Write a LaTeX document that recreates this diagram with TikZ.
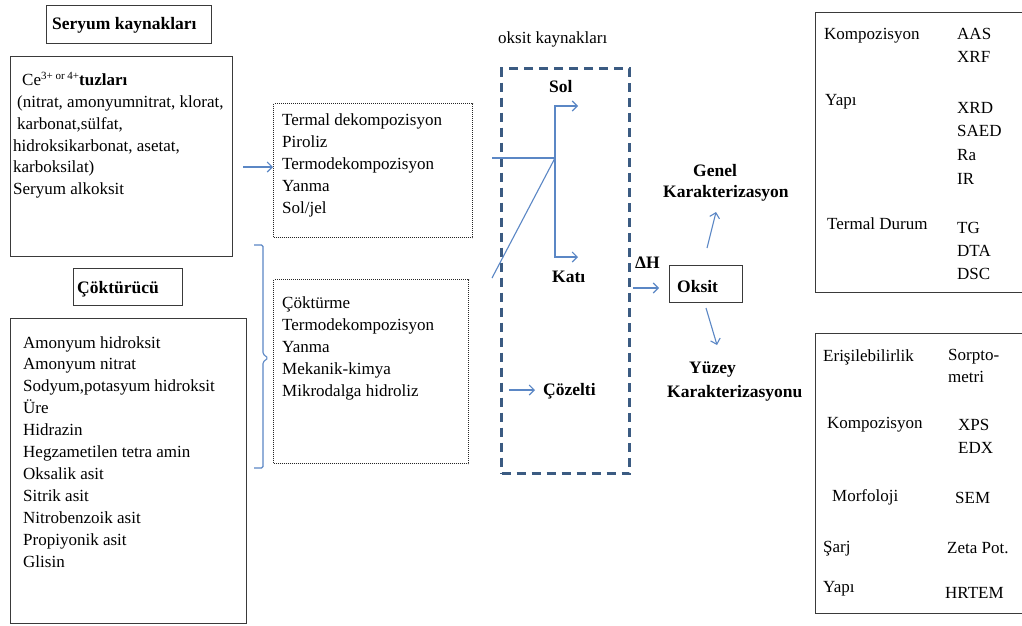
\documentclass[tikz,border=0pt]{standalone}
\usepackage{fontspec}
\setmainfont{Liberation Serif}
\usetikzlibrary{arrows.meta}
\definecolor{arrblue}{HTML}{5B87C5}
\definecolor{dashblue}{HTML}{3B5B82}
\definecolor{boxgray}{HTML}{3A3A3A}
\begin{document}
\begin{tikzpicture}[x=1pt,y=-1pt,
  txt/.style={anchor=base west,inner sep=0pt,font=\fontsize{17}{22}\selectfont},
  btxt/.style={anchor=base west,inner sep=0pt,font=\fontsize{17.5}{22}\selectfont\bfseries},
  solidbox/.style={draw=boxgray,line width=1.4pt,anchor=north west,inner sep=0pt},
  dotbox/.style={draw=black!85,line width=1pt,dash pattern=on 1pt off 1pt,anchor=north west,inner sep=0pt},
  arr/.style={draw=arrblue,line width=1.1pt,-{Straight Barb[length=5pt,width=10pt]}},
  ln/.style={draw=arrblue,line width=1.1pt},
]
\clip (0,0) rectangle (1022,625);
\fill[white] (0,0) rectangle (1022,625);

% ---------- left column ----------
\node[solidbox,minimum width=165pt,minimum height=38pt] (skbox) at (46,5) {};
\node[btxt] (sk) at (52,29) {Seryum kaynakları};

\node[solidbox,minimum width=222pt,minimum height=200pt] (cebox) at (10,56) {};
\node[txt] (ce1) at (22,85) {Ce{\fontsize{11}{11}\selectfont\raisebox{6pt}{3+ or 4+}}\textbf{tuzları}};
\node[txt] (ce2) at (17,107) {(nitrat, amonyumnitrat, klorat,};
\node[txt] (ce3) at (17,129) {karbonat,sülfat,};
\node[txt] (ce4) at (13,151) {hidroksikarbonat, asetat,};
\node[txt] (ce5) at (13,172) {karboksilat)};
\node[txt] (ce6) at (13,194) {Seryum alkoksit};

\node[solidbox,minimum width=109pt,minimum height=37pt] (ckbox) at (73,268) {};
\node[btxt] (ck) at (77,293) {Çöktürücü};

\node[solidbox,minimum width=236pt,minimum height=305pt] (pbox) at (10,318) {};
\foreach \t [count=\i from 0] in {Amonyum hidroksit, Amonyum nitrat, {Sodyum,potasyum hidroksit}, Üre, Hidrazin, Hegzametilen tetra amin, Oksalik asit, Sitrik asit, Nitrobenzoik asit, Propiyonik asit, Glisin}
  \node[txt] (p\i) at (23,{348+21.9*\i}) {\t};

% brace
\draw[ln,rounded corners=1.5pt] (254,245) -- (263,245) -- (263,354) -- (268,358) -- (263,362) -- (263,468) -- (254,468);

% ---------- method boxes ----------
\node[dotbox,minimum width=199pt,minimum height=134pt] (tbox) at (273,103) {};
\foreach \t [count=\i from 0] in {Termal dekompozisyon, Piroliz, Termodekompozisyon, Yanma, Sol/jel}
  \node[txt] (t\i) at (282,{125+22*\i}) {\t};

\node[dotbox,minimum width=195pt,minimum height=184pt] (mbox) at (273,279) {};
\foreach \t [count=\i from 0] in {Çöktürme, Termodekompozisyon, Yanma, Mekanik-kimya, Mikrodalga hidroliz}
  \node[txt] (m\i) at (282,{308+22*\i}) {\t};

\coordinate (a1) at (243,167);
\draw[arr] (a1) -- (a1 -| tbox.west);

% ---------- oxide sources ----------
\node[txt] (ok) at (498,43) {oksit kaynakları};
\node[draw=dashblue,line width=3pt,dash pattern=on 9pt off 6pt,anchor=north west,inner sep=0pt,minimum width=128pt,minimum height=405pt] (dbox) at (500,67) {};

\coordinate (H) at (492,158);
\coordinate (J) at (555,158);
\coordinate (D) at (492,278);
\coordinate (S) at (555,106);
\coordinate (K) at (555,257);
\coordinate (Se) at (578,106);
\coordinate (Ke) at (578,257);
\draw[ln] (H) -- (J);
\draw[ln] (D) -- (J);
\draw[arr] (J) -- (S) -- (Se);
\draw[arr] (J) -- (K) -- (Ke);
\node[btxt] (sol) at (549,92) {Sol};
\node[btxt] (kati) at (552,282) {Katı};
\coordinate (c1) at (509,390);
\node[btxt] (coz) at (543,395) {Çözelti};
\draw[arr] (c1) -- ([xshift=-8pt]c1 -| coz.west);

% ---------- oxide ----------
\node[btxt] (dh) at (635,268) {ΔH};
\node[solidbox,minimum width=73pt,minimum height=37pt] (obox) at (669,265) {};
\node[btxt] (oks) at (677,292) {Oksit};
\coordinate (o1) at (633,288);
\draw[arr] (o1) -- ([xshift=-10pt]o1 -| obox.west);
\node[btxt] (g1) at (693,176) {Genel};
\node[btxt] (g2) at (663,197) {Karakterizasyon};
\node[btxt] (y1) at (689,373) {Yüzey};
\node[btxt] (y2) at (667,397) {Karakterizasyonu};
\coordinate (u0) at (707,248);
\coordinate (u1) at (716,212);
\coordinate (d0) at (706,308);
\coordinate (d1) at (717,345);
\draw[arr] (u0) -- (u1);
\draw[arr] (d0) -- (d1);

% ---------- right boxes ----------
\node[solidbox,minimum width=230pt,minimum height=280pt] (rbox1) at (815,12) {};
\node[txt] (r1a) at (824,39) {Kompozisyon};
\node[txt] (r1b) at (825,105) {Yapı};
\node[txt] (r1c) at (827,229) {Termal Durum};
\foreach \t/\yy [count=\i] in {AAS/39, XRF/62, XRD/113, SAED/136, Ra/160, IR/184, TG/233, DTA/256, DSC/279}
  \node[txt] (q\i) at (957,\yy) {\t};

\node[solidbox,minimum width=230pt,minimum height=280pt] (rbox2) at (815,333) {};
\node[txt] (r2a) at (823,361) {Erişilebilirlik};
\node[txt] (r2b) at (827,428) {Kompozisyon};
\node[txt] (r2c) at (832,501) {Morfoloji};
\node[txt] (r2d) at (823,552) {Şarj};
\node[txt] (r2e) at (823,592) {Yapı};
\node[txt] (s1) at (948,360) {Sorpto-};
\node[txt] (s2) at (948,382) {metri};
\node[txt] (s3) at (958,430) {XPS};
\node[txt] (s4) at (958,453) {EDX};
\node[txt] (s5) at (955,503) {SEM};
\node[txt] (s6) at (947,553) {Zeta Pot.};
\node[txt] (s7) at (945,598) {HRTEM};
\end{tikzpicture}
\end{document}
